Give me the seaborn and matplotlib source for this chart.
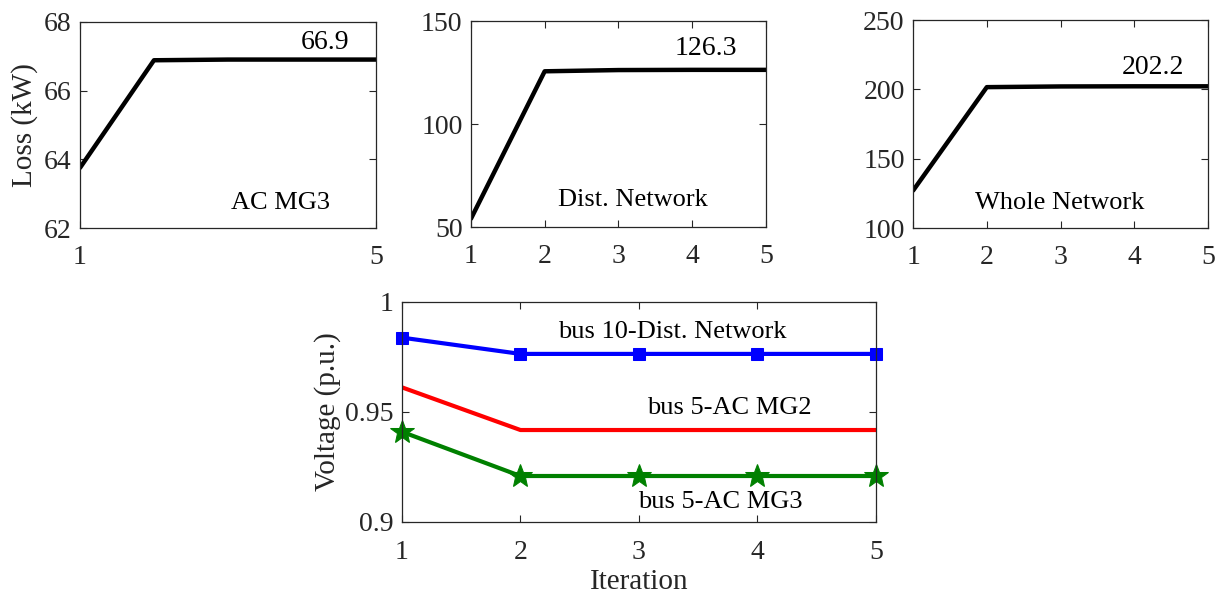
import matplotlib
matplotlib.use('Agg')
import matplotlib.pyplot as plt
import pandas as pd
import seaborn as sns

iterations = [1, 2, 3, 4, 5]

# loss in kW per iteration
loss_mg3 = [63.75, 66.88, 66.9, 66.9, 66.9]
loss_dist = [54.0, 125.6, 126.2, 126.3, 126.3]
loss_whole = [127.0, 201.6, 202.1, 202.2, 202.2]

# bus voltages in p.u.
v_bus10_dist = [0.9838, 0.9764, 0.9764, 0.9764, 0.9764]
v_bus5_mg2 = [0.9612, 0.9418, 0.9418, 0.9418, 0.9418]
v_bus5_mg3 = [0.941, 0.9209, 0.9209, 0.9209, 0.9209]

sns.set_style('ticks', {'xtick.direction': 'in', 'ytick.direction': 'in',
                        'axes.edgecolor': '#262626', 'xtick.color': '#262626',
                        'ytick.color': '#262626', 'text.color': 'black'})
plt.rcParams['font.family'] = ['Liberation Serif', 'DejaVu Serif']

fig = plt.figure(figsize=(12.21, 5.96), dpi=100)

FS = 20


def style_axes(ax, xticks, yticks, ylim, ylabels=None, xpad=12):
    ax.set_xlim(1, 5)
    ax.set_ylim(*ylim)
    ax.set_xticks(xticks)
    ax.set_yticks(yticks)
    if ylabels is not None:
        ax.set_yticklabels(ylabels)
    ax.tick_params(axis='both', which='both', direction='in', top=True, right=True,
                   labelsize=FS, length=5, width=0.8)
    ax.tick_params(axis='x', pad=xpad)
    ax.tick_params(axis='y', pad=6)
    for s in ax.spines.values():
        s.set_linewidth(0.9)
        s.set_visible(True)
    ax.set_xlabel('')
    ax.set_ylabel('')


top_panels = [
    ([0.0655, 0.6174, 0.2424, 0.3461], loss_mg3, (62, 68), [62, 64, 66, 68], [1, 5],
     '66.9', (4.31, 67.39), 'AC MG3', (3.71, 62.73)),
    ([0.3857, 0.6191, 0.2416, 0.3456], loss_dist, (50, 150), [50, 100, 150], [1, 2, 3, 4, 5],
     '126.3', (4.18, 136.7), 'Dist. Network', (3.20, 63.1)),
    ([0.7478, 0.6174, 0.2416, 0.3490], loss_whole, (100, 250), [100, 150, 200, 250], [1, 2, 3, 4, 5],
     '202.2', (4.25, 215.6), 'Whole Network', (2.99, 118.2)),
]

for i, (rect, vals, ylim, yt, xt, val_txt, val_pos, name, name_pos) in enumerate(top_panels):
    ax = fig.add_axes(rect)
    df = pd.DataFrame({'Iteration': iterations, 'Loss': vals})
    sns.lineplot(data=df, x='Iteration', y='Loss', ax=ax, color='black', lw=3.2)
    style_axes(ax, xt, yt, ylim)
    ax.text(*val_pos, val_txt, fontsize=FS, ha='center', va='center')
    ax.text(*name_pos, name, fontsize=FS - 1, ha='center', va='center')
    if i == 0:
        ax.set_ylabel('Loss (kW)', fontsize=FS + 1, labelpad=4)

ax = fig.add_axes([0.3292, 0.1242, 0.3882, 0.3691])
vdf = pd.DataFrame({
    'Iteration': iterations * 3,
    'Voltage': v_bus10_dist + v_bus5_mg2 + v_bus5_mg3,
    'Bus': ['bus 10-Dist. Network'] * 5 + ['bus 5-AC MG2'] * 5 + ['bus 5-AC MG3'] * 5,
})
sns.lineplot(data=vdf[vdf.Bus == 'bus 10-Dist. Network'], x='Iteration', y='Voltage',
             ax=ax, color='#0000ff', lw=3, marker='s', markersize=8,
             markeredgecolor='#0000ff', clip_on=False)
sns.lineplot(data=vdf[vdf.Bus == 'bus 5-AC MG2'], x='Iteration', y='Voltage',
             ax=ax, color='#ff0000', lw=3)
sns.lineplot(data=vdf[vdf.Bus == 'bus 5-AC MG3'], x='Iteration', y='Voltage',
             ax=ax, color='#008000', lw=3, marker='*', markersize=18,
             markeredgecolor='#008000', clip_on=False)
style_axes(ax, [1, 2, 3, 4, 5], [0.9, 0.95, 1.0], (0.9, 1.0), ['0.9', '0.95', '1'], xpad=13)
ax.set_xlabel('Iteration', fontsize=FS + 1, labelpad=3)
ax.set_ylabel('Voltage (p.u.)', fontsize=FS + 1, labelpad=3)
ax.text(3.28, 0.9865, 'bus 10-Dist. Network', fontsize=FS - 1, ha='center', va='center')
ax.text(3.76, 0.9518, 'bus 5-AC MG2', fontsize=FS - 1, ha='center', va='center')
ax.text(3.69, 0.909, 'bus 5-AC MG3', fontsize=FS - 1, ha='center', va='center')
if ax.get_legend() is not None:
    ax.get_legend().remove()

fig.savefig('out.png', dpi=100)
